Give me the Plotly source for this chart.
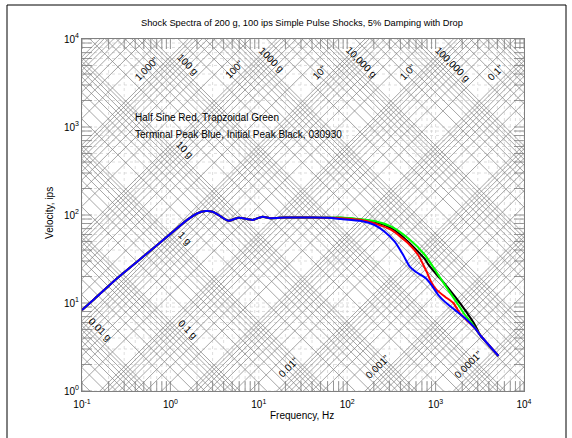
import math
import plotly.graph_objects as go

# ---------------- data ----------------
# Shared low-frequency part of all four spectra (Hz, ips)
common_freq = [0.1, 0.134, 0.248, 0.543, 1.0, 1.55, 2.0, 2.5, 3.0, 3.5, 4.0, 4.6, 5.9, 8.5, 11.0, 13.5, 20.0, 40.0, 60.0]
common_vel = [8.3, 10.8, 19.0, 36.5, 61.0, 88.0, 104.0, 111.0, 109.0, 100.0, 91.6, 86.0, 93.0, 88.0, 95.8, 92.0, 93.5, 93.5, 93.0]

# Terminal peak (blue)
blue_freq = [85, 144, 204, 265, 345, 430, 511, 600, 700, 780, 900, 1074, 1277, 1660, 2155, 2800, 3200, 5150]
blue_vel = [90.0, 85.5, 77.0, 64.6, 49.8, 35.1, 25.9, 22.5, 20.5, 19.0, 16.0, 12.3, 10.3, 8.3, 6.7, 5.15, 4.3, 2.5]

# Half sine (red)
red_freq = [85, 144, 204, 316, 489, 635, 791, 900, 1026, 1277, 1588, 1888, 2350, 2800, 3200, 5150]
red_vel = [92.0, 88.0, 80.4, 67.6, 47.7, 35.1, 22.7, 17.0, 14.1, 11.8, 10.0, 7.6, 6.1, 5.15, 4.3, 2.5]

# Trapezoidal (green)
green_freq = [85, 204, 316, 489, 757, 1074, 1520, 1811, 2155, 2564, 3200, 5150]
green_vel = [93.5, 85.5, 73.6, 54.3, 35.1, 20.8, 12.3, 9.5, 7.3, 5.9, 4.3, 2.5]

# Initial peak (black)
black_freq = [85, 204, 316, 489, 757, 826, 1074, 1170, 1660, 2155, 2797, 3200, 5150]
black_vel = [93.0, 84.0, 70.6, 49.8, 31.5, 27.5, 20.0, 18.2, 11.8, 8.3, 5.6, 4.3, 2.5]

# Tripartite grid labels
accel_label_text = ["100 g", "1000 g", "10,000 g", "100,000 g", "10 g", "1 g", "0.1 g", "0.01 g"]
accel_label_g = [100, 1000, 10000, 100000, 10, 1, 0.1, 0.01]
disp_label_text = ['1,000"', '100"', '10"', '1.0"', '0.1"', '0.01"', '0.001"', '0.0001"']
disp_label_in = [1000, 100, 10, 1.0, 0.1, 0.01, 0.001, 0.0001]

# Axis ticks
x_tick_vals = [0.1, 1, 10, 100, 1000, 10000]
x_tick_text = ["10<sup>-1</sup>", "10<sup>0</sup>", "10<sup>1</sup>", "10<sup>2</sup>", "10<sup>3</sup>", "10<sup>4</sup>"]
y_tick_vals = [1, 10, 100, 1000, 10000]
y_tick_text = ["10<sup>0</sup>", "10<sup>1</sup>", "10<sup>2</sup>", "10<sup>3</sup>", "10<sup>4</sup>"]

# ---------------- constants / placement ----------------
G_IPS2 = 386.09           # 1 g in in/s^2
X_RANGE = (-1, 4)         # log10 Hz
Y_RANGE = (0, 4)          # log10 ips
FONT = "Arial, Liberation Sans, sans-serif"
GRID_GRAY = "#808080"

# frequencies along each line where its label sits
accel_label_f = [1.38, 12.1, 129, 1376, 1.27, 1.29, 1.39, 0.141]
disp_label_f = [0.631, 6.15, 56.8, 575, 5610, 25.2, 259, 2730]

fig = go.Figure()

# ---- dotted log grid (major + minor) ----
decade_pts = []
for k in range(-1, 4):
    for m in range(1, 10):
        decade_pts.append(m * 10 ** k)
decade_pts.append(10 ** 4)
gx, gy = [], []
for xv in decade_pts:
    gx += [xv, xv, None]
    gy += [10 ** Y_RANGE[0], 10 ** Y_RANGE[1], None]
for yv in [v for v in decade_pts if 1 <= v <= 1e4]:
    gx += [10 ** X_RANGE[0], 10 ** X_RANGE[1], None]
    gy += [yv, yv, None]
fig.add_trace(go.Scatter(x=gx, y=gy, mode="lines", hoverinfo="skip", showlegend=False,
                         line=dict(color="#c8c8c8", width=0.6, dash="dot")))

# ---- tripartite lines: constant displacement and constant acceleration ----
f_lo, f_hi = 10 ** X_RANGE[0], 10 ** X_RANGE[1]
tx, ty = [], []
for k in range(-5, 5):
    for m in range(1, 10):
        d = m * 10 ** k
        tx += [f_lo, f_hi, None]
        ty += [2 * math.pi * f_lo * d, 2 * math.pi * f_hi * d, None]
for k in range(-3, 7):
    for m in range(1, 10):
        a = m * 10 ** k * G_IPS2
        tx += [f_lo, f_hi, None]
        ty += [a / (2 * math.pi * f_lo), a / (2 * math.pi * f_hi), None]
fig.add_trace(go.Scatter(x=tx, y=ty, mode="lines", hoverinfo="skip", showlegend=False,
                         line=dict(color=GRID_GRAY, width=0.7)))

# ---- inward tick marks on all four sides ----
TL = 10 / 88.0  # tick length in decades
kx, ky = [], []
for xv in decade_pts:
    kx += [xv, xv, None, xv, xv, None]
    ky += [1, 10 ** TL, None, 1e4, 10 ** (4 - TL), None]
for yv in [v for v in decade_pts if 1 <= v <= 1e4]:
    kx += [0.1, 10 ** (-1 + TL), None, 1e4, 10 ** (4 - TL), None]
    ky += [yv, yv, None, yv, yv, None]
fig.add_trace(go.Scatter(x=kx, y=ky, mode="lines", hoverinfo="skip", showlegend=False,
                         line=dict(color=GRID_GRAY, width=0.8)))

# ---- spectra ----
for name, fr, vel, col in [
    ("Initial Peak", black_freq, black_vel, "#000000"),
    ("Trapezoidal", green_freq, green_vel, "#00ff00"),
    ("Half Sine", red_freq, red_vel, "#ff0000"),
    ("Terminal Peak", blue_freq, blue_vel, "#0000ff"),
]:
    fig.add_trace(go.Scatter(x=common_freq + fr, y=common_vel + vel, mode="lines", name=name,
                             showlegend=False,
                             line=dict(color=col, width=2, shape="spline", smoothing=0.6)))

# ---- tripartite labels ----
annotations = []
for txt, g, f in zip(accel_label_text, accel_label_g, accel_label_f):
    v = g * G_IPS2 / (2 * math.pi * f)
    annotations.append(dict(x=math.log10(f), y=math.log10(v), xref="x", yref="y", text=txt,
                            showarrow=False, textangle=45, xshift=5, yshift=5,
                            font=dict(family=FONT, size=10, color="black")))
for txt, d, f in zip(disp_label_text, disp_label_in, disp_label_f):
    v = 2 * math.pi * f * d
    annotations.append(dict(x=math.log10(f), y=math.log10(v), xref="x", yref="y", text=txt,
                            showarrow=False, textangle=-45, xshift=-6, yshift=6,
                            font=dict(family=FONT, size=10, color="black")))

# ---- notes, title, axis titles ----
annotations += [
    dict(x=0.1154, y=0.7756, xref="paper", yref="paper", xanchor="left", yanchor="middle",
         text="Half Sine Red, Trapzoidal Green", showarrow=False,
         font=dict(family=FONT, size=10, color="black")),
    dict(x=0.1154, y=0.730, xref="paper", yref="paper", xanchor="left", yanchor="middle",
         text="Terminal Peak Blue, Initial Peak Black, 030930", showarrow=False,
         font=dict(family=FONT, size=10, color="black")),
    dict(x=0.498, y=1.045, xref="paper", yref="paper", xanchor="center", yanchor="middle",
         text="Shock Spectra of 200 g, 100 ips Simple Pulse Shocks, 5% Damping with Drop",
         showarrow=False, font=dict(family=FONT, size=9.3, color="black")),
    dict(x=0.498, y=-0.07, xref="paper", yref="paper", xanchor="center", yanchor="middle",
         text="Frequency, Hz", showarrow=False, font=dict(family=FONT, size=10, color="black")),
    dict(x=-0.0724, y=0.506, xref="paper", yref="paper", xanchor="center", yanchor="middle",
         text="Velocity, ips", textangle=-90, showarrow=False,
         font=dict(family=FONT, size=10, color="black")),
]

fig.update_layout(
    width=572, height=438,
    margin=dict(l=82, r=48, t=39, b=47),
    paper_bgcolor="white", plot_bgcolor="white",
    annotations=annotations,
    shapes=[dict(type="rect", xref="paper", yref="paper",
                 x0=(7 - 82) / 442, x1=(566 - 82) / 442,
                 y0=(391 - 445) / 352, y1=(391 - 5) / 352,
                 line=dict(color="black", width=1), layer="above")],
    xaxis=dict(type="log", range=list(X_RANGE), tickvals=x_tick_vals, ticktext=x_tick_text,
               ticks="", showgrid=False, zeroline=False, showline=True, mirror=True,
               linecolor=GRID_GRAY, linewidth=1, ticklabelstandoff=4,
               tickfont=dict(family=FONT, size=10, color="black")),
    yaxis=dict(type="log", range=list(Y_RANGE), tickvals=y_tick_vals, ticktext=y_tick_text,
               ticks="", showgrid=False, zeroline=False, showline=True, mirror=True,
               linecolor=GRID_GRAY, linewidth=1,
               tickfont=dict(family=FONT, size=10, color="black")),
)

fig.write_html("out.html")
